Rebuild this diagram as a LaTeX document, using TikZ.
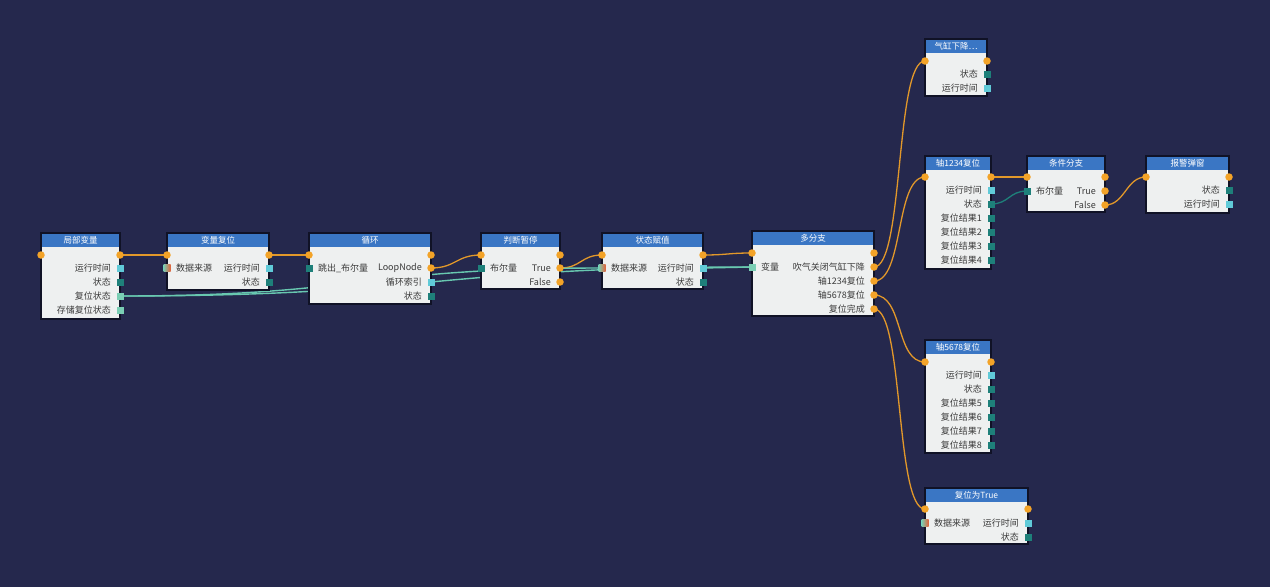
\documentclass[tikz,border=0pt]{standalone}
\usepackage{fontspec}
\setmainfont{Noto Sans CJK SC}
\usetikzlibrary{calc}
\definecolor{bgc}{RGB}{37,40,77}
\definecolor{headc}{RGB}{58,118,196}
\definecolor{bodyc}{RGB}{238,240,240}
\definecolor{edgec}{RGB}{16,18,38}
\definecolor{porto}{RGB}{243,163,40}
\definecolor{wireo}{RGB}{226,152,42}
\definecolor{portc}{RGB}{96,202,216}
\definecolor{portd}{RGB}{30,128,122}
\definecolor{portm}{RGB}{122,206,180}
\definecolor{portr}{RGB}{226,98,58}
\definecolor{wiret}{RGB}{104,200,176}
\definecolor{txtc}{RGB}{58,58,58}
\pgfdeclarelayer{back}
\pgfdeclarelayer{wires}
\pgfsetlayers{back,wires,main}
\tikzset{
  x=1pt, y=-1pt,
  body/.style={draw=edgec, line width=1.2pt, fill=bodyc, inner sep=0pt, outer sep=0pt, anchor=north west},
  head/.style={fill=headc, inner sep=0pt, outer sep=0pt, minimum height=14pt, anchor=north west, text=white, font=\fontsize{8.5}{9}\selectfont},
  po/.style={circle, fill=porto, inner sep=0pt, minimum size=7.5pt},
  pc/.style={rectangle, fill=portc, inner sep=0pt, minimum size=7pt},
  pd/.style={rectangle, fill=portd, inner sep=0pt, minimum size=7pt},
  pm/.style={rectangle, fill=portm, inner sep=0pt, minimum size=7pt},
  pg/.style={rectangle, inner sep=0pt, minimum size=7pt, left color=portm, right color=portr},
  rl/.style={font=\fontsize{9}{10}\selectfont, text=txtc, inner sep=0pt, anchor=east},
  ll/.style={font=\fontsize{9}{10}\selectfont, text=txtc, inner sep=0pt, anchor=west},
  wo/.style={draw=wireo, line width=1.3pt},
  wt/.style={draw=wiret, line width=1.4pt},
  wd/.style={draw=portd, line width=1.3pt},
}
\newcommand{\blk}[6]{%
  \node[body, minimum width=#4pt, minimum height=#5pt] (#1) at (#2,#3) {};
  \node[head, minimum width=#4pt] (#1h) at (#2,#3) {#6};
  \draw[edgec, line width=1.2pt] (#1.north west) rectangle (#1.south east);
}
\newcommand{\wire}[4]{\draw[#1] (#2.center) .. controls +(#4,0) and +(-#4,0) .. (#3.center);}
\begin{document}
\begin{tikzpicture}
\begin{pgfonlayer}{back}
\fill[bgc] (0,0) rectangle (1270,587);
\end{pgfonlayer}
\useasboundingbox (0,0) rectangle (1270,587);

% 1 局部变量
\blk{n1}{41}{233}{79}{86}{局部变量}
\node[po] (n1i0) at (41,255) {};
\node[po] (n1o0) at (120,255) {};
\node[pc] (n1o1) at (120,268) {}; \node[rl] (n1t1) at (111,268) {运行时间};
\node[pd] (n1o2) at (120,282) {}; \node[rl] (n1t2) at (111,282) {状态};
\node[pm] (n1o3) at (120,296) {}; \node[rl] (n1t3) at (111,296) {复位状态};
\node[pm] (n1o4) at (120,310) {}; \node[rl] (n1t4) at (111,310) {存储复位状态};

% 2 变量复位
\blk{n2}{167}{233}{102}{57}{变量复位}
\node[po] (n2i0) at (167,255) {};
\node[pg] (n2i1) at (167,268) {}; \node[ll] (n2s1) at (176,268) {数据来源};
\node[po] (n2o0) at (269,255) {};
\node[pc] (n2o1) at (269,268) {}; \node[rl] (n2t1) at (260,268) {运行时间};
\node[pd] (n2o2) at (269,282) {}; \node[rl] (n2t2) at (260,282) {状态};

% 3 循环
\blk{n3}{309}{233}{122}{71}{循环}
\node[po] (n3i0) at (309,255) {};
\node[pd] (n3i1) at (309,268) {}; \node[ll] (n3s1) at (318,268) {跳出\_布尔量};
\node[po] (n3o0) at (431,255) {};
\node[po] (n3o1) at (431,268) {}; \node[rl] (n3t1) at (422,268) {LoopNode};
\node[pc] (n3o2) at (431,282) {}; \node[rl] (n3t2) at (422,282) {循环索引};
\node[pd] (n3o3) at (431,296) {}; \node[rl] (n3t3) at (422,296) {状态};

% 4 判断暂停
\blk{n4}{481}{233}{79}{56}{判断暂停}
\node[po] (n4i0) at (481,255) {};
\node[pd] (n4i1) at (481,268) {}; \node[ll] (n4s1) at (490,268) {布尔量};
\node[po] (n4o0) at (560,255) {};
\node[po] (n4o1) at (560,268) {}; \node[rl] (n4t1) at (551,268) {True};
\node[po] (n4o2) at (560,282) {}; \node[rl] (n4t2) at (551,282) {False};

% 5 状态赋值
\blk{n5}{602}{233}{101}{56}{状态赋值}
\node[po] (n5i0) at (602,255) {};
\node[pg] (n5i1) at (602,268) {}; \node[ll] (n5s1) at (611,268) {数据来源};
\node[po] (n5o0) at (703,255) {};
\node[pc] (n5o1) at (703,268) {}; \node[rl] (n5t1) at (694,268) {运行时间};
\node[pd] (n5o2) at (703,282) {}; \node[rl] (n5t2) at (694,282) {状态};

% 6 多分支
\blk{n6}{752}{231}{122}{85}{多分支}
\node[po] (n6i0) at (752,253) {};
\node[pm] (n6i1) at (752,267) {}; \node[ll] (n6s1) at (761,267) {变量};
\node[po] (n6o0) at (874,253) {};
\node[po] (n6o1) at (874,267) {}; \node[rl] (n6t1) at (865,267) {吹气关闭气缸下降};
\node[po] (n6o2) at (874,281) {}; \node[rl] (n6t2) at (865,281) {轴1234复位};
\node[po] (n6o3) at (874,295) {}; \node[rl] (n6t3) at (865,295) {轴5678复位};
\node[po] (n6o4) at (874,309) {}; \node[rl] (n6t4) at (865,309) {复位完成};

% 7 气缸下降…
\blk{n7}{925}{39}{62}{57}{气缸下降…}
\node[po] (n7i0) at (925,61) {};
\node[po] (n7o0) at (987,61) {};
\node[pd] (n7o1) at (987,74) {}; \node[rl] (n7t1) at (978,74) {状态};
\node[pc] (n7o2) at (987,88) {}; \node[rl] (n7t2) at (978,88) {运行时间};

% 8 轴1234复位
\blk{n8}{925}{156}{66}{113}{轴1234复位}
\node[po] (n8i0) at (925,177) {};
\node[po] (n8o0) at (991,177) {};
\node[pc] (n8o1) at (991,190) {}; \node[rl] (n8t1) at (982,190) {运行时间};
\node[pd] (n8o2) at (991,204) {}; \node[rl] (n8t2) at (982,204) {状态};
\node[pd] (n8o3) at (991,218) {}; \node[rl] (n8t3) at (982,218) {复位结果1};
\node[pd] (n8o4) at (991,232) {}; \node[rl] (n8t4) at (982,232) {复位结果2};
\node[pd] (n8o5) at (991,246) {}; \node[rl] (n8t5) at (982,246) {复位结果3};
\node[pd] (n8o6) at (991,260) {}; \node[rl] (n8t6) at (982,260) {复位结果4};

% 9 条件分支
\blk{n9}{1027}{156}{78}{56}{条件分支}
\node[po] (n9i0) at (1027,177) {};
\node[pd] (n9i1) at (1027,191) {}; \node[ll] (n9s1) at (1036,191) {布尔量};
\node[po] (n9o0) at (1105,177) {};
\node[po] (n9o1) at (1105,191) {}; \node[rl] (n9t1) at (1096,191) {True};
\node[po] (n9o2) at (1105,205) {}; \node[rl] (n9t2) at (1096,205) {False};

% 10 报警弹窗
\blk{n10}{1146}{156}{83}{57}{报警弹窗}
\node[po] (n10i0) at (1146,177) {};
\node[po] (n10o0) at (1229,177) {};
\node[pd] (n10o1) at (1229,190) {}; \node[rl] (n10t1) at (1220,190) {状态};
\node[pc] (n10o2) at (1229,204) {}; \node[rl] (n10t2) at (1220,204) {运行时间};

% 11 轴5678复位
\blk{n11}{925}{340}{66}{113}{轴5678复位}
\node[po] (n11i0) at (925,362) {};
\node[po] (n11o0) at (991,362) {};
\node[pc] (n11o1) at (991,375) {}; \node[rl] (n11t1) at (982,375) {运行时间};
\node[pd] (n11o2) at (991,389) {}; \node[rl] (n11t2) at (982,389) {状态};
\node[pd] (n11o3) at (991,403) {}; \node[rl] (n11t3) at (982,403) {复位结果5};
\node[pd] (n11o4) at (991,417) {}; \node[rl] (n11t4) at (982,417) {复位结果6};
\node[pd] (n11o5) at (991,431) {}; \node[rl] (n11t5) at (982,431) {复位结果7};
\node[pd] (n11o6) at (991,445) {}; \node[rl] (n11t6) at (982,445) {复位结果8};

% 12 复位为True
\blk{n12}{925}{488}{103}{56}{复位为True}
\node[po] (n12i0) at (925,509) {};
\node[pg] (n12i1) at (925,523) {}; \node[ll] (n12s1) at (934,523) {数据来源};
\node[po] (n12o0) at (1028,509) {};
\node[pc] (n12o1) at (1028,523) {}; \node[rl] (n12t1) at (1019,523) {运行时间};
\node[pd] (n12o2) at (1028,537) {}; \node[rl] (n12t2) at (1019,537) {状态};

\begin{pgfonlayer}{wires}
\wire{wo}{n1o0}{n2i0}{23}
\wire{wo}{n2o0}{n3i0}{20}
\wire{wo}{n3o1}{n4i0}{25}
\wire{wo}{n4o1}{n5i0}{21}
\wire{wo}{n5o0}{n6i0}{25}
\wire{wo}{n6o1}{n7i0}{30}
\wire{wo}{n6o2}{n8i0}{30}
\wire{wo}{n6o3}{n11i0}{30}
\wire{wo}{n6o4}{n12i0}{30}
\wire{wo}{n8o0}{n9i0}{18}
\wire{wo}{n9o2}{n10i0}{20}
\wire{wt}{n1o3}{n5i1}{241}
\wire{wt}{n1o3}{n6i1}{316}
\wire{wt}{n5o1}{n6i1}{25}
\wire{wd}{n8o2}{n9i1}{18}
\end{pgfonlayer}
\end{tikzpicture}
\end{document}
